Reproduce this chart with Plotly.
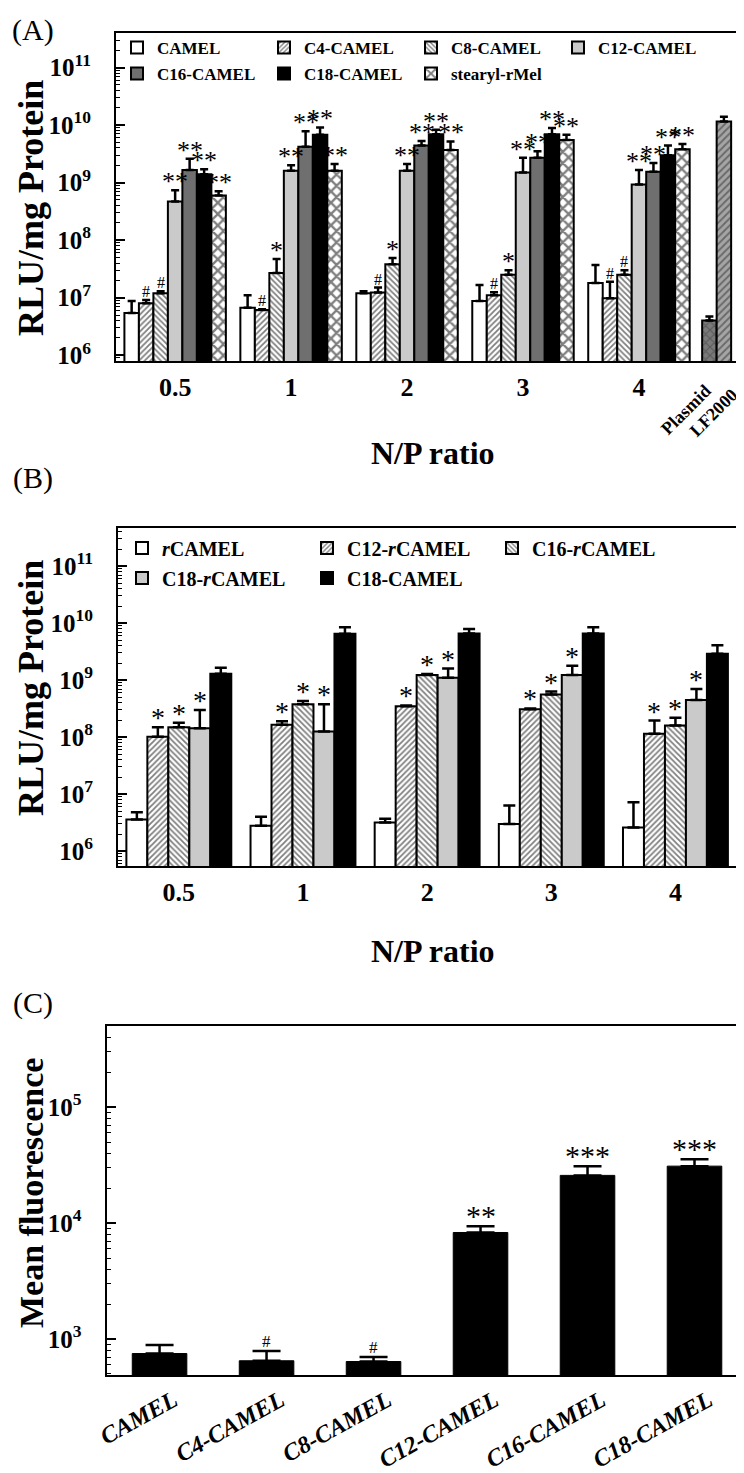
import math
import plotly.graph_objects as go

W, H = 744, 1473
SERIF = "Liberation Serif"


def px(x):
    return x / W


def py(y):
    return 1 - y / H


# ---------------- Panel A : luciferase, CAMEL analogues ----------------
np_ratio = ["0.5", "1", "2", "3", "4"]
a_names = ["CAMEL", "C4-CAMEL", "C8-CAMEL", "C12-CAMEL",
           "C16-CAMEL", "C18-CAMEL", "stearyl-rMel"]
a_camel = [5.4e6, 6.7e6, 1.2e7, 8.8e6, 1.8e7]
a_c4 = [8.0e6, 6.1e6, 1.23e7, 1.1e7, 9.8e6]
a_c8 = [1.2e7, 2.7e7, 3.8e7, 2.5e7, 2.5e7]
a_c12 = [4.7e8, 1.6e9, 1.6e9, 1.5e9, 9.3e8]
a_c16 = [1.65e9, 4.2e9, 4.4e9, 2.7e9, 1.55e9]
a_c18 = [1.4e9, 6.8e9, 6.9e9, 6.9e9, 3.0e9]
a_stearyl = [6.0e8, 1.6e9, 3.7e9, 5.5e9, 3.8e9]
# upper end of the error bars
a_camel_top = [8.8e6, 1.1e7, 1.3e7, 1.66e7, 3.7e7]
a_c4_top = [9.1e6, 6.3e6, 1.5e7, 1.25e7, 1.9e7]
a_c8_top = [1.3e7, 4.7e7, 4.9e7, 3.0e7, 3.0e7]
a_c12_top = [7.4e8, 2.0e9, 2.1e9, 2.7e9, 1.65e9]
a_c16_top = [2.6e9, 7.8e9, 5.3e9, 3.5e9, 2.2e9]
a_c18_top = [1.7e9, 9.1e9, 8.3e9, 8.9e9, 4.4e9]
a_stearyl_top = [7.1e8, 2.1e9, 5.2e9, 6.8e9, 4.7e9]
a_c4_sig = ["#", "#", "#", "#", "#"]
a_c8_sig = ["#", "*", "*", "*", "#"]
a_strong_sig = ["**", "**", "**", "**", "**"]

ctrl_names = ["Plasmid", "LF2000"]
ctrl_vals = [4.0e6, 1.15e10]
ctrl_top = [4.7e6, 1.4e10]

# ---------------- Panel B : luciferase, rCAMEL analogues ----------------
b_names = ["<i>r</i>CAMEL", "C12-<i>r</i>CAMEL", "C16-<i>r</i>CAMEL",
           "C18-<i>r</i>CAMEL", "C18-CAMEL"]
b_rcamel = [3.6e6, 2.8e6, 3.2e6, 3.0e6, 2.6e6]
b_c12 = [1.02e8, 1.66e8, 3.5e8, 3.1e8, 1.15e8]
b_c16 = [1.5e8, 3.8e8, 1.23e9, 5.6e8, 1.6e8]
b_c18r = [1.44e8, 1.26e8, 1.1e9, 1.23e9, 4.5e8]
b_c18 = [1.3e9, 6.5e9, 6.6e9, 6.6e9, 2.9e9]
b_rcamel_top = [4.8e6, 4.0e6, 3.7e6, 6.3e6, 7.2e6]
b_c12_top = [1.5e8, 1.9e8, 3.6e8, 3.2e8, 1.96e8]
b_c16_top = [1.8e8, 4.3e8, 1.28e9, 6.3e8, 2.2e8]
b_c18r_top = [3.0e8, 3.8e8, 1.6e9, 1.8e9, 7.0e8]
b_c18_top = [1.66e9, 8.5e9, 7.9e9, 8.5e9, 4.1e9]
b_none_sig = ["", "", "", "", ""]
b_star_sig = ["*", "*", "*", "*", "*"]

# ---------------- Panel C : mean fluorescence ----------------
c_names = ["CAMEL", "C4-CAMEL", "C8-CAMEL", "C12-CAMEL", "C16-CAMEL", "C18-CAMEL"]
c_vals = [750, 650, 640, 8300, 25800, 31000]
c_top = [890, 790, 700, 9400, 31000, 35500]
c_sig = ["", "#", "#", "**", "***", "***"]

# ---------------- styles ----------------
a_styles = [
    dict(bg="white", fg="black", shape="", size=6, sol=0.3),
    dict(bg="white", fg="black", shape="/", size=4, sol=0.45),
    dict(bg="white", fg="black", shape="\\", size=4, sol=0.45),
    dict(bg="#cacaca", fg="#cacaca", shape="", size=6, sol=0.3),
    dict(bg="#6f6f6f", fg="#6f6f6f", shape="", size=6, sol=0.3),
    dict(bg="black", fg="black", shape="", size=6, sol=0.3),
    dict(bg="white", fg="black", shape="x", size=8, sol=0.5),
]
b_styles = [a_styles[0], a_styles[1], a_styles[2], a_styles[3], a_styles[5]]
ctrl_styles = [dict(bg="#7a7a7a", fg="#3c3c3c", shape="x", size=6, sol=0.35),
               dict(bg="#a5a5a5", fg="#2a2a2a", shape="/", size=5, sol=0.35)]


def bar_marker(st, lw=2):
    m = dict(color=st["bg"], line=dict(color="black", width=lw))
    if st["shape"]:
        m["pattern"] = dict(shape=st["shape"], fgcolor=st["fg"], bgcolor=st["bg"],
                            size=st["size"], solidity=st["sol"])
    return m


def plus_err(vals, tops, capw):
    return dict(type="data", symmetric=False, array=[t - v for v, t in zip(vals, tops)],
                arrayminus=[0] * len(vals), color="black", thickness=2.5, width=capw)


def sig_note(text, x, top, xref, yref, big, small):
    # significance marks sit on top of the error-bar cap
    star = text != "#"
    return dict(text=text, x=x, y=math.log10(top), xref=xref, yref=yref,
                xanchor="center", yanchor="bottom", showarrow=False,
                yshift=-8 if star else -2,
                font=dict(family=SERIF, size=big if star else small, color="#000000"))


fig = go.Figure()
ann = []

# ---- Panel A bars ----
grp = list(range(len(np_ratio)))
a_vals = [a_camel, a_c4, a_c8, a_c12, a_c16, a_c18, a_stearyl]
a_tops = [a_camel_top, a_c4_top, a_c8_top, a_c12_top, a_c16_top, a_c18_top, a_stearyl_top]
a_sigs = [["", "", "", "", ""], a_c4_sig, a_c8_sig] + [a_strong_sig] * 4
aw = 0.125
for k, name in enumerate(a_names):
    off = -3.5 * aw + k * aw
    fig.add_trace(go.Bar(
        x=grp, y=a_vals[k], name=name, width=aw, offset=off,
        marker=bar_marker(a_styles[k]),
        error_y=plus_err(a_vals[k], a_tops[k], 4),
        xaxis="x", yaxis="y",
        legend="legend" if k < 4 else "legend3",
    ))
    for i, s in enumerate(a_sigs[k]):
        if s:
            ann.append(sig_note(s, grp[i] + off + aw / 2, a_tops[k][i], "x", "y", 26, 16))

# controls sit just right of the N/P = 4 group
ctrl_pos = len(np_ratio) - 0.33
for j, name in enumerate(ctrl_names):
    off = (j - 1) * aw
    fig.add_trace(go.Bar(
        x=[ctrl_pos], y=[ctrl_vals[j]], name=name, width=aw, offset=off,
        marker=bar_marker(ctrl_styles[j]),
        error_y=plus_err([ctrl_vals[j]], [ctrl_top[j]], 4),
        xaxis="x", yaxis="y", showlegend=False,
    ))
    ann.append(dict(text=name, x=ctrl_pos + off + aw / 2, y=py(370), xref="x", yref="paper",
                    xanchor="right", yanchor="top", xshift=8 + 12 * j, yshift=-4 * j,
                    textangle=-45, showarrow=False,
                    font=dict(family=SERIF, size=18, color="black", weight="bold")))

# ---- Panel B bars ----
b_vals = [b_rcamel, b_c12, b_c16, b_c18r, b_c18]
b_tops = [b_rcamel_top, b_c12_top, b_c16_top, b_c18r_top, b_c18_top]
b_sigs = [b_none_sig, b_star_sig, b_star_sig, b_star_sig, b_none_sig]
bw = 0.169
for k, name in enumerate(b_names):
    off = -2.5 * bw + k * bw
    fig.add_trace(go.Bar(
        x=grp, y=b_vals[k], name=name, width=bw, offset=off,
        marker=bar_marker(b_styles[k]),
        error_y=plus_err(b_vals[k], b_tops[k], 6),
        xaxis="x2", yaxis="y2",
        legend="legend2" if k < 3 else "legend4",
    ))
    for i, s in enumerate(b_sigs[k]):
        if s:
            ann.append(sig_note(s, grp[i] + off + bw / 2, b_tops[k][i], "x2", "y2", 28, 16))

# ---- Panel C bars ----
fig.add_trace(go.Bar(
    x=c_names, y=c_vals, width=0.51,
    marker=dict(color="black", line=dict(color="black", width=1)),
    error_y=plus_err(c_vals, c_top, 14),
    xaxis="x3", yaxis="y3", showlegend=False,
))
for i, s in enumerate(c_sig):
    if s:
        ann.append(sig_note(s, i, c_top[i], "x3", "y3", 30, 17))

# ---------------- axes ----------------
bold = dict(family=SERIF, color="black", weight="bold")


def yaxis(dom, rng, vals, labels, xa):
    return dict(
        type="log", domain=dom, range=rng, anchor=xa,
        tickvals=vals, ticktext=labels,
        ticks="inside", ticklen=9, tickwidth=2, tickcolor="black",
        minor=dict(ticks="inside", ticklen=4, tickwidth=1, tickcolor="black", dtick="D1"),
        showline=True, linewidth=2, linecolor="black", mirror=True,
        showgrid=False, zeroline=False, automargin=False,
        tickfont=dict(size=25, **bold), ticklabelstandoff=18,
    )


def xaxis(dom, rng, ya, **kw):
    d = dict(
        domain=dom, range=rng, anchor=ya,
        showline=True, linewidth=2, linecolor="black", mirror=True,
        showgrid=False, zeroline=False, ticks="", ticklen=0, automargin=False,
    )
    d.update(kw)
    return d


rlu_vals = [1e6, 1e7, 1e8, 1e9, 1e10, 1e11]
rlu_text = ["10<sup>%d</sup>" % e for e in range(6, 12)]

fig.update_layout(
    width=W, height=H, margin=dict(l=0, r=0, t=0, b=0),
    paper_bgcolor="white", plot_bgcolor="white",
    barmode="overlay", showlegend=True,
    xaxis=xaxis([px(108), px(733)], [-0.51, 4.88], "y",
                tickmode="array", tickvals=grp, ticktext=np_ratio,
                tickfont=dict(size=26, **bold), ticklabelstandoff=2),
    yaxis=yaxis([py(353), py(25)], [5.9, 11.6], rlu_vals, rlu_text, "x"),
    xaxis2=xaxis([px(110), px(732)], [-0.49, 4.52], "y2",
                 tickmode="array", tickvals=grp, ticktext=np_ratio,
                 tickfont=dict(size=26, **bold), ticklabelstandoff=2),
    yaxis2=yaxis([py(858), py(520)], [5.74, 11.67], rlu_vals, rlu_text, "x2"),
    xaxis3=xaxis([px(98.6), px(740)], [-0.495, 5.5], "y3",
                 tickangle=-29, ticklabelshift=14, ticklabelstandoff=0,
                 tickfont=dict(size=24, family=SERIF, color="black",
                               weight="bold", style="italic")),
    yaxis3=yaxis([py(1367), py(1018)], [2.69, 5.70], [1e3, 1e4, 1e5],
                 ["10<sup>%d</sup>" % e for e in range(3, 6)], "x3"),
)

legend_common = dict(orientation="h", xanchor="left", yanchor="middle",
                     bgcolor="rgba(0,0,0,0)", entrywidthmode="pixels",
                     itemclick=False, traceorder="normal")
fig.update_layout(
    legend=dict(x=px(109), y=py(40), entrywidth=102,
                font=dict(size=17, **bold), **legend_common),
    legend3=dict(x=px(109), y=py(66), entrywidth=102,
                 font=dict(size=17, **bold), **legend_common),
    legend2=dict(x=px(114), y=py(540), entrywidth=140,
                 font=dict(size=20, **bold), **legend_common),
    legend4=dict(x=px(114), y=py(570), entrywidth=140,
                 font=dict(size=20, **bold), **legend_common),
)

# ---------------- text annotations ----------------
for lab, (x, y) in zip(["(A)", "(B)", "(C)"], [(25, 22), (25, 470), (25, 995)]):
    ann.append(dict(text=lab, x=px(x), y=py(y), xref="paper", yref="paper",
                    xanchor="center", yanchor="middle", showarrow=False,
                    font=dict(family=SERIF, size=30, color="black")))
for txt, (x, y), fs in zip(["RLU/mg Protein", "RLU/mg Protein", "Mean fluorescence"],
                           [(23, 200), (23, 680), (23, 1185)], [36, 36, 34]):
    ann.append(dict(text=txt, x=px(x), y=py(y), xref="paper", yref="paper",
                    xanchor="center", yanchor="middle",
                    textangle=-90, showarrow=False, font=dict(size=fs, **bold)))
for y in (445, 943):
    ann.append(dict(text="N/P ratio", x=px(425), y=py(y), xref="paper", yref="paper",
                    xanchor="center", yanchor="middle",
                    showarrow=False, font=dict(size=32, **bold)))
fig.update_layout(annotations=ann)

fig.write_html("out.html")
